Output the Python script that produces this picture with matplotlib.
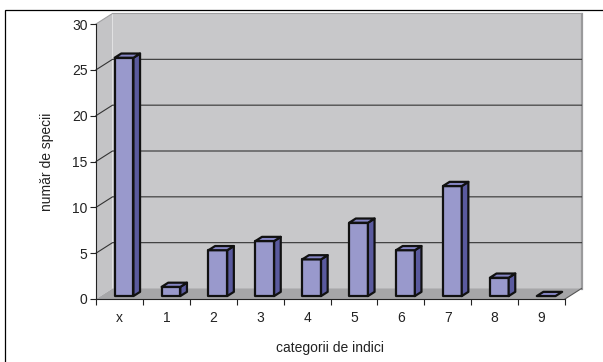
import numpy as np
import matplotlib
matplotlib.use("Agg")
import matplotlib.pyplot as plt
from matplotlib.patches import Polygon, Rectangle

plt.rcParams['font.family'] = ['Liberation Sans', 'DejaVu Sans']

categorii = ['x', '1', '2', '3', '4', '5', '6', '7', '8', '9']
nr_specii = [26, 1, 5, 6, 4, 8, 5, 12, 2, 0]

fig = plt.figure(figsize=(6.03, 3.62), dpi=100)
ax = fig.add_axes([96 / 603, 63 / 362, 469 / 603, 275 / 362])
ax.set_xlim(-0.5, len(categorii) - 0.5)
ax.set_ylim(0, 30)

# adancimea 3D (in pixeli) -> unitati de date
dx_px, dy_px = 16.5, 10.5
ddx = dx_px * (ax.get_xlim()[1] - ax.get_xlim()[0]) / ax.bbox.width
ddy = dy_px * (ax.get_ylim()[1] - ax.get_ylim()[0]) / ax.bbox.height

def p(x, y, f):
    return (x + f * ddx, y + f * ddy)

x0, x1 = ax.get_xlim()
y0, y1 = ax.get_ylim()

# pereti si podea
ax.add_patch(Polygon([p(x0, y0, 1), p(x1, y0, 1), p(x1, y1, 1), p(x0, y1, 1)],
                     closed=True, fc='#c8c8ca', ec='none', clip_on=False, zorder=1))
ax.add_patch(Polygon([p(x0, y0, 0), p(x0, y0, 1), p(x0, y1, 1), p(x0, y1, 0)],
                     closed=True, fc='#c4c4c6', ec='none', clip_on=False, zorder=1))
ax.add_patch(Polygon([p(x0, y0, 0), p(x1, y0, 0), p(x1, y0, 1), p(x0, y0, 1)],
                     closed=True, fc='#a6a6a8', ec='none', clip_on=False, zorder=2))
# margine dreapta a peretelui
ax.plot([p(x1, y0, 1)[0]] * 2, [p(x1, y0, 1)[1], p(x1, y1, 1)[1]],
        color='#9a9a9c', lw=1.6, clip_on=False, zorder=1.5)
ax.plot([p(x0, y1, 0)[0], p(x0, y1, 1)[0], p(x1, y1, 1)[0]],
        [p(x0, y1, 0)[1], p(x0, y1, 1)[1], p(x1, y1, 1)[1]],
        color='#a0a0a2', lw=0.8, clip_on=False, zorder=1.5)
ax.plot([p(x1, y0, 0)[0], p(x1, y0, 1)[0]], [p(x1, y0, 0)[1], p(x1, y0, 1)[1]],
        color='#555555', lw=0.8, clip_on=False, zorder=2.5)

# linii de grila
for g in range(5, 30, 5):
    ax.plot([p(x0, g, 0)[0], p(x0, g, 1)[0], p(x1, g, 1)[0]],
            [p(x0, g, 0)[1], p(x0, g, 1)[1], p(x1, g, 1)[1]],
            color='#333333', lw=0.8, clip_on=False, zorder=1.8)

# coloane 3D
w = 0.4
f0, f1 = 0.28, 0.68
for i, v in enumerate(nr_specii):
    a, b = i - w / 2, i + w / 2
    kw = dict(closed=True, ec='#111111', lw=1.6, joinstyle='round', clip_on=False)
    if v > 0:
        ax.add_patch(Polygon([p(a, 0, f0), p(b, 0, f0), p(b, v, f0), p(a, v, f0)],
                             fc='#9999cc', zorder=3, **kw))
        ax.add_patch(Polygon([p(b, 0, f0), p(b, 0, f1), p(b, v, f1), p(b, v, f0)],
                             fc='#5a5a9e', zorder=3, **kw))
    ax.add_patch(Polygon([p(a, v, f0), p(b, v, f0), p(b, v, f1), p(a, v, f1)],
                         fc='#8585c4', zorder=3.1, **kw))

# axe
for s in ['top', 'right']:
    ax.spines[s].set_visible(False)
ax.spines['left'].set_color('#222222')
ax.spines['bottom'].set_color('#222222')
ax.spines['left'].set_linewidth(0.8)
ax.spines['bottom'].set_linewidth(0.8)
ax.spines['left'].set_zorder(4)
ax.spines['bottom'].set_zorder(4)
ax.patch.set_visible(False)

ax.set_yticks(range(0, 31, 5))
ax.set_xticks(range(len(categorii)))
ax.set_xticklabels(categorii)
ax.set_xticks(np.arange(-0.5, len(categorii), 1), minor=True)
ax.tick_params(axis='x', which='major', length=0, pad=9, labelsize=10, labelcolor='#222222')
ax.tick_params(axis='x', which='minor', length=4, width=0.8, color='#222222')
ax.tick_params(axis='y', length=4, width=0.8, pad=2, labelsize=10, labelcolor='#222222', color='#222222')

ax.set_ylabel('număr de specii', fontsize=10, color='#222222', labelpad=13)
ax.set_xlabel('categorii de indici', fontsize=10, color='#222222', labelpad=11)

# chenarul graficului
fig.patches.append(Rectangle((5 / 603, -0.1), 1.2, (362 - 10) / 362 + 0.1,
                             transform=fig.transFigure, fill=False, ec='black', lw=0.9))

fig.savefig('out.png', dpi=100)
